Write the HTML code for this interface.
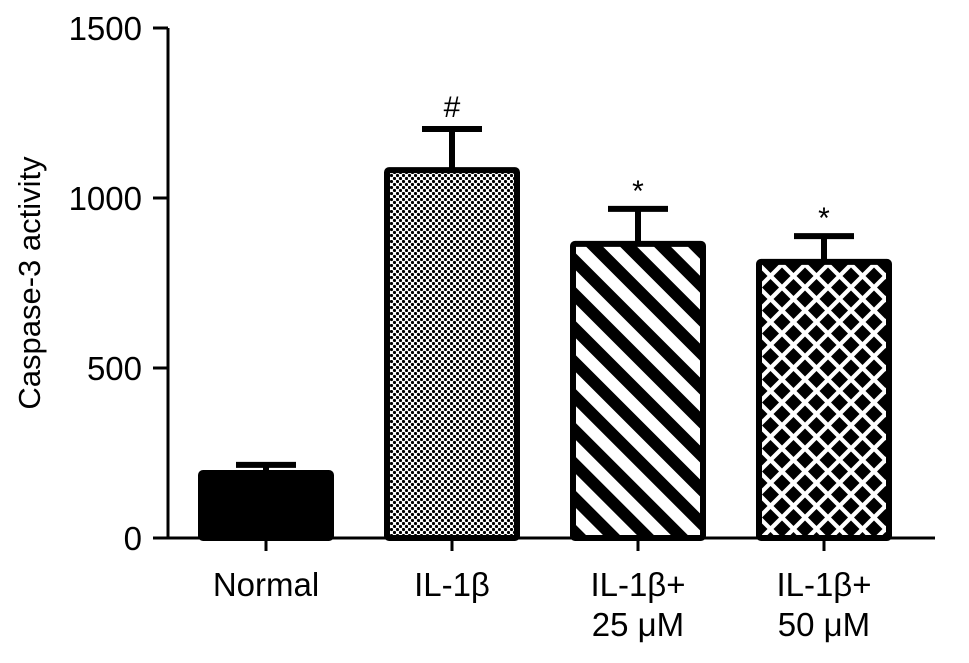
<!DOCTYPE html>
<html><head><meta charset="utf-8"><style>
body{margin:0;background:#fff;}
svg text{font-family:"Liberation Sans",sans-serif;fill:#000;}
</style></head><body>
<svg width="969" height="658" viewBox="0 0 969 658">
<defs>
<pattern id="chk" width="6" height="6" patternUnits="userSpaceOnUse"><rect width="6" height="6" fill="#fff"/><circle cx="1.5" cy="1.5" r="1.6" fill="#000"/><circle cx="4.5" cy="4.5" r="1.6" fill="#000"/></pattern>
<pattern id="diag" width="24" height="24" patternUnits="userSpaceOnUse" patternTransform="rotate(-45)"><rect width="24" height="24" fill="#fff"/><rect width="12" height="24" fill="#000"/></pattern>
<pattern id="dia" width="23" height="23" patternUnits="userSpaceOnUse"><rect width="23" height="23" fill="#fff"/><polygon points="11.5,3 20,11.5 11.5,20 3,11.5" fill="#000"/><polygon points="0,-8.5 8.5,0 0,8.5 -8.5,0" fill="#000"/><polygon points="23,-8.5 31.5,0 23,8.5 14.5,0" fill="#000"/><polygon points="0,14.5 8.5,23 0,31.5 -8.5,23" fill="#000"/><polygon points="23,14.5 31.5,23 23,31.5 14.5,23" fill="#000"/></pattern>
</defs>
<g id="plot"></g>
</svg>
<script>
const categories=["Normal","IL-1β","IL-1β+|25 μM","IL-1β+|50 μM"];
const values=[191,1082,865,812];
const errors=[24,121,103,76];
const marks=["","#","*","*"];
const yTicks=[0,500,1000,1500];
const fills=["#000","url(#chk)","url(#diag)","url(#dia)"];
const NS="http://www.w3.org/2000/svg";
const g=document.getElementById('plot');
const y0=538,yTop=28,ymax=1500;
const y=v=>y0-(v/ymax)*(y0-yTop);
const x=i=>266+i*186;
const bw=130;
function mk(t,a,p){const e=document.createElementNS(NS,t);for(const k in a)e.setAttribute(k,a[k]);(p||g).appendChild(e);return e;}
let ax=mk('line',{x1:168,y1:yTop,x2:168,y2:y0,stroke:'#000','stroke-width':3});


let xa=mk('line',{x1:153,y1:y0,x2:935,y2:y0,stroke:'#000','stroke-width':3});


yTicks.forEach(t=>{
 mk('line',{x1:153,y1:y(t),x2:168,y2:y(t),stroke:'#000','stroke-width':3});
 const tx=mk('text',{x:142,y:y(t)+12,'text-anchor':'end','font-size':33});tx.textContent=t;
 
 
});
const yt=mk('text',{transform:'translate(40,283) rotate(-90)','text-anchor':'middle','font-size':31});yt.textContent='Caspase-3 activity';


categories.forEach((c,i)=>{
 const cx=x(i),top=y(values[i]),et=y(values[i]+errors[i]);
 mk('line',{x1:cx,y1:et,x2:cx,y2:top,stroke:'#000','stroke-width':6});
 mk('line',{x1:cx-30,y1:et,x2:cx+30,y2:et,stroke:'#000','stroke-width':6});
 const b=mk('rect',{x:cx-bw/2,y:top,width:bw,height:y0-top,fill:fills[i],stroke:'#000','stroke-width':6,rx:2});
 
 
 if(marks[i]){const m=mk('text',{x:cx,y:et-(marks[i]=='#'?12:8),'text-anchor':'middle','font-size':marks[i]=='#'?30:30});m.textContent=marks[i];
  
  }
 mk('line',{x1:cx,y1:y0,x2:cx,y2:551,stroke:'#000','stroke-width':3});
 c.split('|').forEach((ln,j)=>{const t=mk('text',{x:cx,y:596+j*40,'text-anchor':'middle','font-size':33});t.textContent=ln;
  
  });
});
</script>
</body></html>
